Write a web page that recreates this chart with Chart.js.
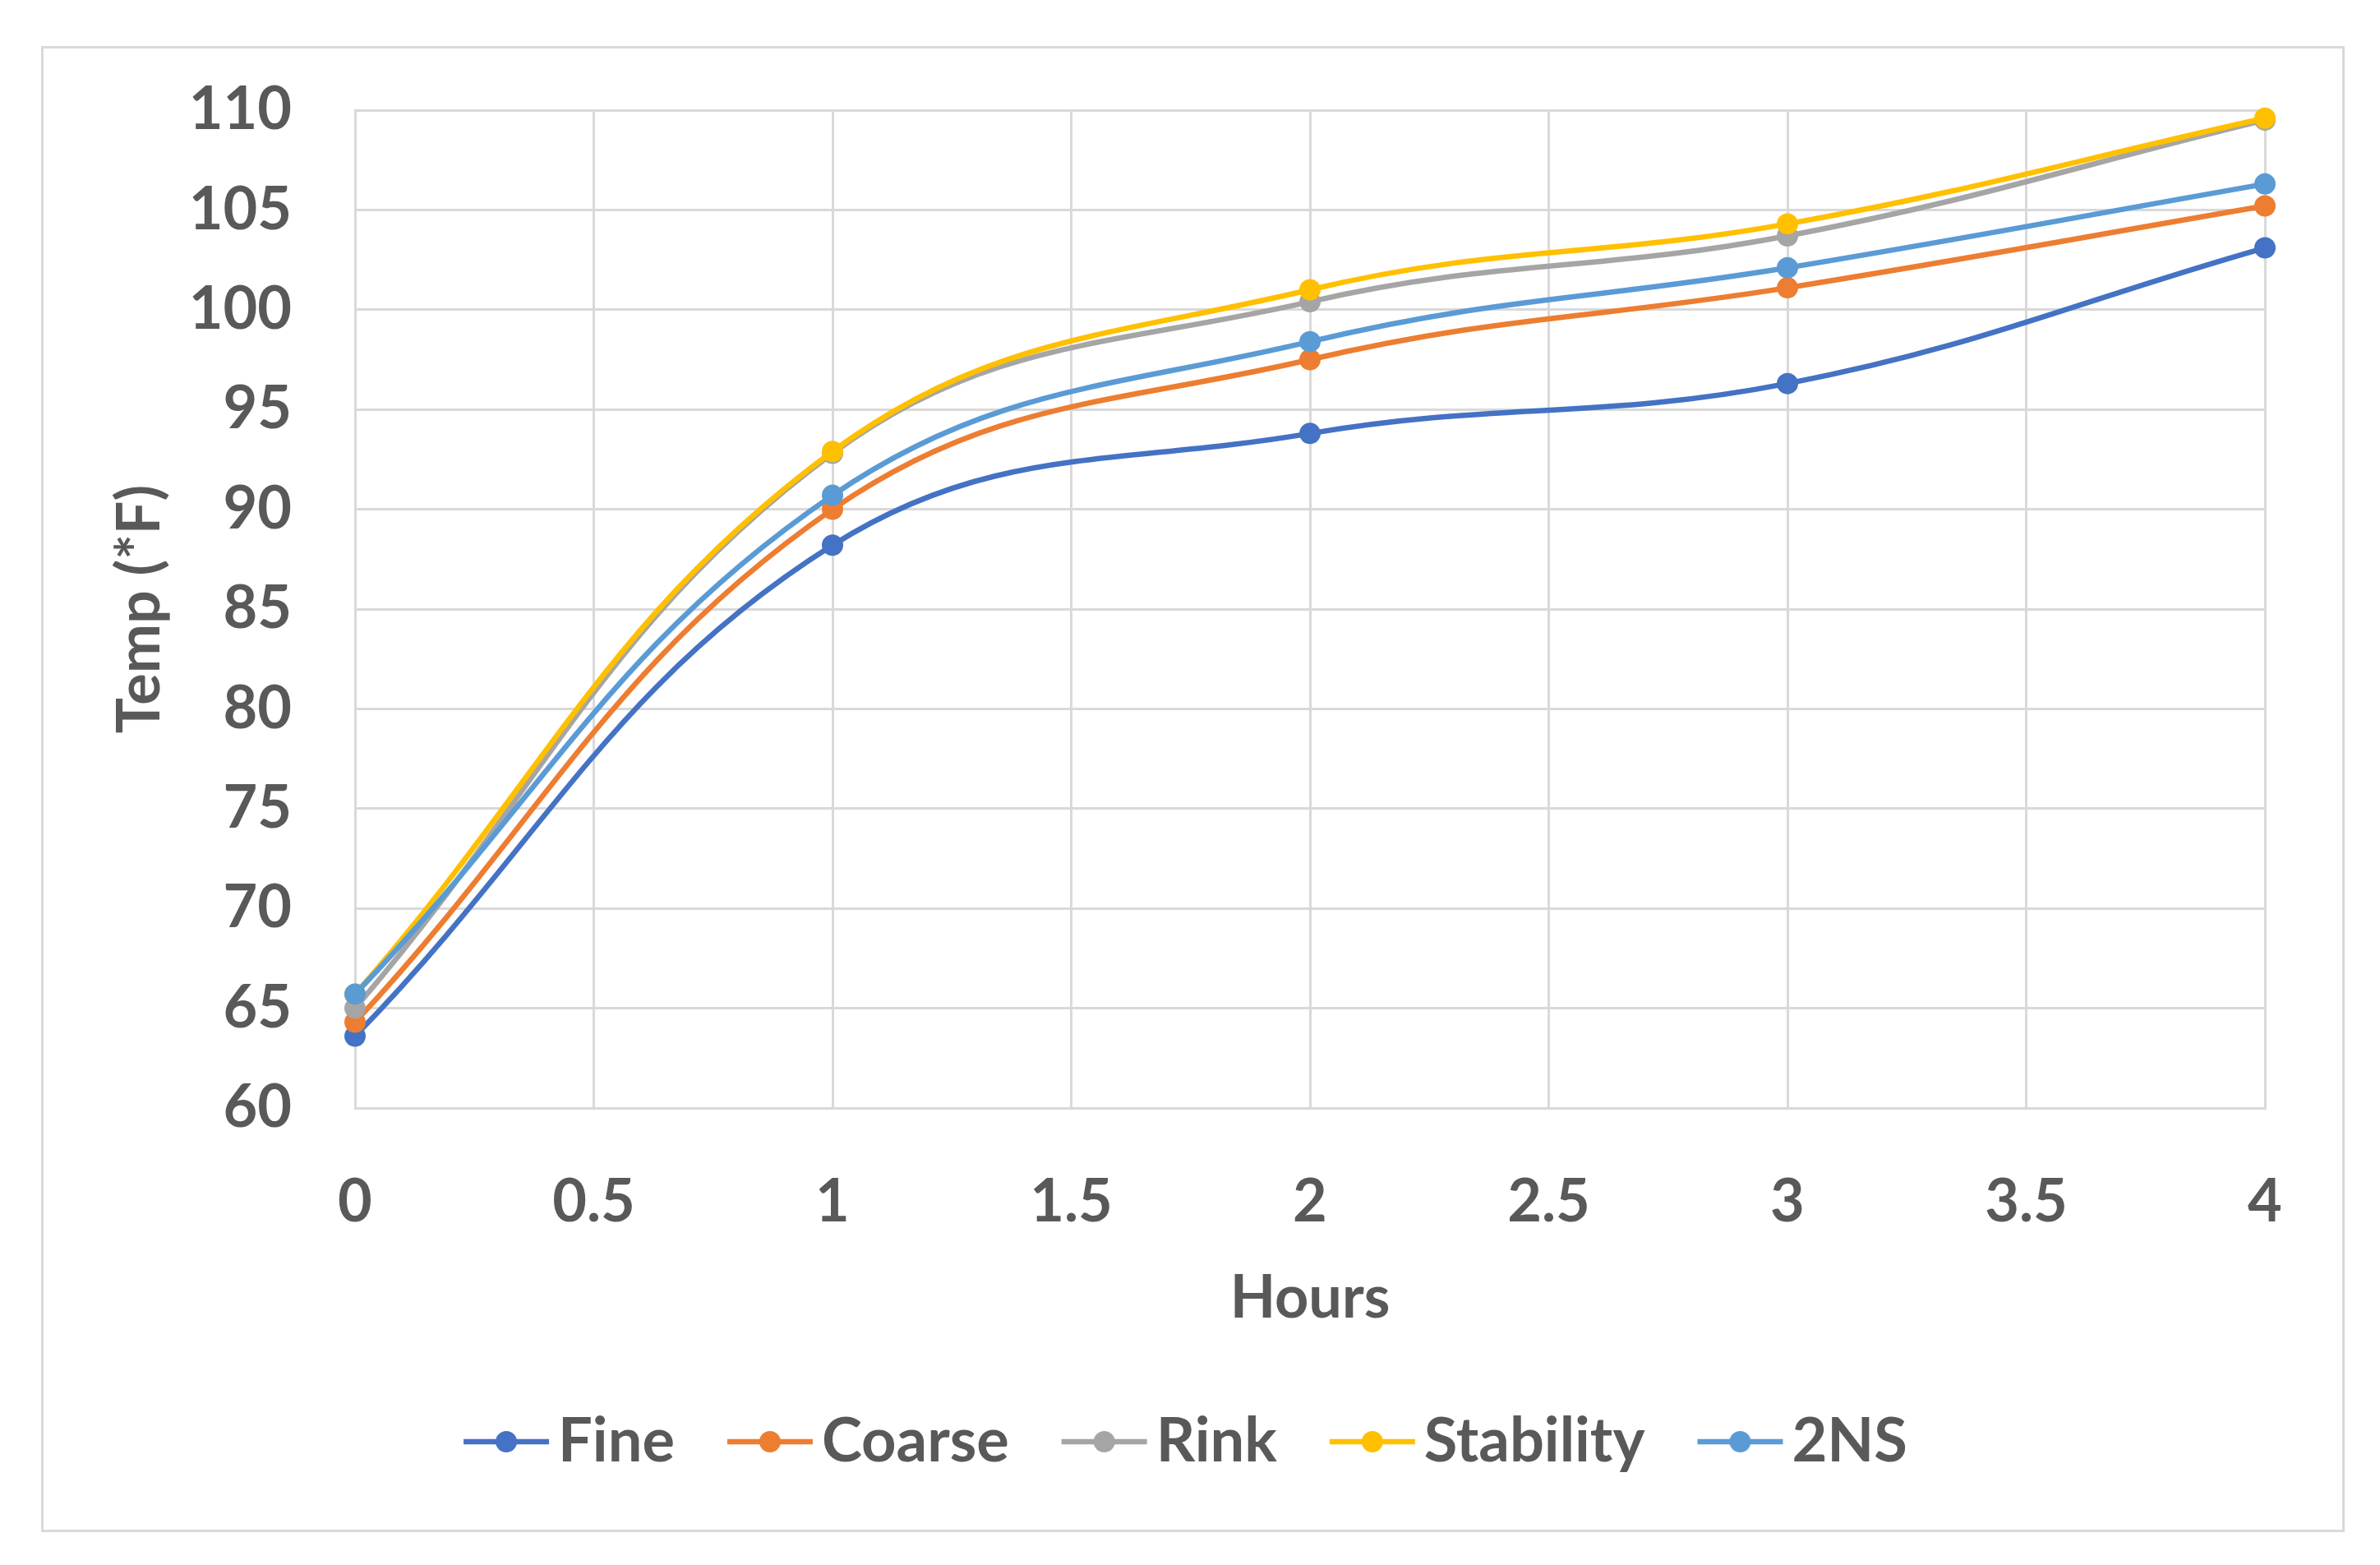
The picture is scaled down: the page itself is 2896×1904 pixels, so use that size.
<!DOCTYPE html>
<html>
<head>
<meta charset="utf-8">
<title>Temp vs Hours</title>
<script src="https://cdn.jsdelivr.net/npm/chart.js@4.4.1/dist/chart.umd.min.js"></script>
<style>
  html, body { margin: 0; padding: 0; background: #fff; }
  #wrap { position: relative; width: 2896px; height: 1904px; }
  #frame { position: absolute; left: 50px; top: 56px; width: 2797px; height: 1802px;
           border: 3px solid #d9d9d9; pointer-events: none; }
</style>
</head>
<body>
<div id="wrap">
  <canvas id="tempChart" width="2896" height="1904"></canvas>
  <div id="frame"></div>
</div>
<script>
// --- data ---
const hours = [0, 1, 2, 3, 4];
const seriesNames = ['Fine', 'Coarse', 'Rink', 'Stability', '2NS'];
const fine = [63.6, 88.2, 93.8, 96.3, 103.1];
const coarse = [64.3, 90.0, 97.5, 101.1, 105.2];
const rink = [65.0, 92.8, 100.4, 103.7, 109.5];
const stability = [65.7, 92.9, 101.0, 104.3, 109.6];
const twoNS = [65.7, 90.7, 98.4, 102.1, 106.3];
const xTicks = [0, 0.5, 1, 1.5, 2, 2.5, 3, 3.5, 4];
const yTicks = [60, 65, 70, 75, 80, 85, 90, 95, 100, 105, 110];

const COLORS = ['#4472C4', '#ED7D31', '#A5A5A5', '#FFC000', '#5B9BD5'];
const TEXT = '#595959';
const GRID = '#d9d9d9';
const FONT = 'Lato';

// legend marker: short line with a dot, like Excel
function legendMarker(color) {
    const c = document.createElement('canvas');
    c.width = 240; c.height = 32;
    const g = c.getContext('2d');
    g.strokeStyle = color;
    g.lineWidth = 6.5;
    g.beginPath();
    g.moveTo(82, 16);
    g.lineTo(186, 16);
    g.stroke();
    g.fillStyle = color;
    g.beginPath();
    g.arc(134, 16, 13, 0, Math.PI * 2);
    g.fill();
    return c;
}

const allSeries = [fine, coarse, rink, stability, twoNS];
const markers = COLORS.map(legendMarker);

const datasets = allSeries.map((vals, i) => ({
    label: seriesNames[i],
    data: vals.map((v, j) => ({ x: hours[j], y: v })),
    borderColor: COLORS[i],
    backgroundColor: COLORS[i],
    borderWidth: 6.5,
    pointRadius: 13,
    pointBorderWidth: 0,
    pointBackgroundColor: COLORS[i],
    tension: 0.4,
    clip: false,
    order: allSeries.length - 1 - i   // later series on top, like Excel
}));

new Chart(document.getElementById('tempChart'), {
    type: 'line',
    data: { datasets },
    options: {
        responsive: false,
        animation: false,
        devicePixelRatio: 1,
        layout: { padding: { left: 127, right: 140, top: 134, bottom: 103 } },
        scales: {
            x: {
                type: 'linear',
                min: 0,
                max: 4,
                afterFit: s => { s.height = 307; },
                afterBuildTicks: s => { s.ticks = xTicks.map(v => ({ value: v })); },
                ticks: {
                    padding: 72,
                    color: TEXT,
                    font: { family: FONT, size: 72, weight: 'bold' },
                    callback: v => String(v)
                },
                grid: { color: GRID, lineWidth: 3, drawTicks: false },
                border: { color: GRID, width: 3 },
                title: {
                    display: true,
                    text: 'Hours',
                    color: TEXT,
                    padding: { top: 0, bottom: 32 },
                    font: { family: FONT, size: 72, weight: 'bold' }
                }
            },
            y: {
                min: 60,
                max: 110,
                afterFit: s => { s.width = 305; },
                afterBuildTicks: s => { s.ticks = yTicks.map(v => ({ value: v })); },
                ticks: {
                    padding: 77,
                    color: TEXT,
                    font: { family: FONT, size: 72, weight: 'bold' }
                },
                grid: { color: GRID, lineWidth: 3, drawTicks: false },
                border: { color: GRID, width: 3 },
                title: {
                    display: true,
                    text: 'Temp (*F)',
                    color: TEXT,
                    padding: { top: 1, bottom: 0 },
                    font: { family: FONT, size: 72, weight: 'bold' }
                }
            }
        },
        plugins: {
            tooltip: { enabled: false },
            legend: {
                position: 'bottom',
                labels: {
                    color: TEXT,
                    font: { family: FONT, size: 74, weight: 'bold' },
                    usePointStyle: true,
                    pointStyleWidth: 80,
                    padding: 62,
                    generateLabels: chart => chart.data.datasets.map((ds, i) => ({
                        text: ds.label,
                        fillStyle: ds.backgroundColor,
                        strokeStyle: ds.borderColor,
                        lineWidth: 0,
                        pointStyle: markers[i],
                        fontColor: TEXT,
                        hidden: false,
                        datasetIndex: i
                    }))
                }
            }
        }
    }
});
</script>
</body>
</html>
